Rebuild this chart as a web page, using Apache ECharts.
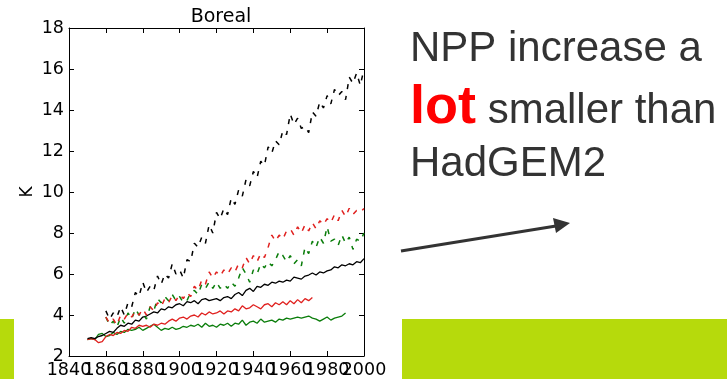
<!DOCTYPE html>
<html>
<head>
<meta charset="utf-8">
<script src="https://cdn.jsdelivr.net/npm/echarts@6/dist/echarts.min.js"></script>
<style>
html,body{margin:0;padding:0;background:#fff;}
#c{width:727px;height:379px;}
</style>
</head>
<body>
<div id="c"></div>
<script>
// ---- data ----
const title = 'Boreal';
const yName = 'K';
const xTicks = {min: 1840, max: 2000, interval: 20};
const yTicks = {min: 2, max: 18, interval: 2};
const step = 2;
const solidStart = 1850;
const dashedStart = 1860;

const blackSolid = [
  2.85, 2.9, 2.85, 2.95, 3.0, 3.1, 3.2, 3.15, 3.35, 3.5,
  3.45, 3.6, 3.55, 3.75, 3.7, 3.9, 3.95, 4.05, 4.15, 4.1,
  4.3, 4.25, 4.4, 4.35, 4.5, 4.55, 4.45, 4.65, 4.6, 4.7,
  4.55, 4.75, 4.8, 4.7, 4.75, 4.8, 4.7, 4.85, 4.9, 4.8,
  5.0, 5.1, 4.95, 5.2, 5.3, 5.15, 5.4, 5.35, 5.5, 5.45,
  5.6, 5.55, 5.65, 5.6, 5.7, 5.65, 5.85, 5.8, 5.75, 5.9,
  5.95, 6.05, 5.95, 6.1, 6.05, 6.15, 6.2, 6.35, 6.3, 6.45,
  6.4, 6.5, 6.45, 6.6, 6.55, 6.75
];
const redSolid = [
  2.8, 2.85, 2.8, 2.65, 2.7, 2.95, 3.05, 3.0, 3.15, 3.1,
  3.25, 3.2, 3.4, 3.35, 3.5, 3.45, 3.5, 3.4, 3.55, 3.5,
  3.6, 3.55, 3.7, 3.8, 3.7, 3.85, 3.9, 3.8, 3.95, 4.0,
  3.9, 4.1, 4.0, 4.15, 4.05, 4.1, 4.2, 4.05, 4.2, 4.15,
  4.3, 4.2, 4.45, 4.3, 4.35, 4.5, 4.4, 4.3, 4.5, 4.55,
  4.4, 4.6, 4.5, 4.65, 4.5, 4.7, 4.55, 4.75, 4.6, 4.8,
  4.7, 4.85
];
const greenSolid = [
  2.8, 2.85, 2.8, 3.05, 3.1, 2.95, 3.0, 3.15, 3.05, 3.2,
  3.15, 3.3, 3.25, 3.3, 3.4, 3.25, 3.35, 3.45, 3.55, 3.4,
  3.25, 3.35, 3.3, 3.4, 3.3, 3.35, 3.45, 3.4, 3.5, 3.45,
  3.55, 3.4, 3.6, 3.45, 3.5, 3.4, 3.55, 3.5, 3.6, 3.45,
  3.6, 3.55, 3.75, 3.5, 3.65, 3.7, 3.6, 3.8, 3.65, 3.7,
  3.75, 3.65, 3.8, 3.75, 3.85, 3.8, 3.85, 3.9, 3.85, 3.9,
  3.95, 3.85, 3.8, 3.7, 3.8, 3.9, 3.75, 3.85, 3.9, 3.95,
  4.1
];
const blackDashed = [
  4.2, 3.8, 4.1, 3.9, 4.4, 4.0, 4.6, 4.4, 5.1, 4.9,
  5.6, 5.1, 5.4, 5.2, 5.9, 5.5, 6.0, 5.8, 6.5, 6.0,
  6.2, 5.8, 6.7, 6.6, 7.5, 7.3, 7.8, 7.5, 8.4, 8.0,
  9.0, 8.7, 9.2, 8.9, 9.7, 9.4, 10.1, 9.8, 10.6, 10.3,
  11.0, 10.7, 11.5, 11.3, 12.2, 11.9, 12.5, 12.3, 13.0, 12.8,
  13.8, 13.3, 13.6, 13.1, 13.2, 12.9, 13.9, 13.7, 14.4, 14.1,
  14.7, 14.3, 15.0, 14.7, 14.9, 14.5, 15.6, 15.3, 15.8, 15.2,
  16.0
];
const redDashed = [
  3.9, 3.6, 3.8, 3.5, 4.0, 3.8, 4.1, 3.9, 4.2, 4.0,
  4.3, 4.0, 4.4, 4.2, 4.6, 4.4, 4.8, 4.6, 4.95, 4.7,
  5.0, 4.8, 5.1, 4.9, 5.4, 5.2, 5.7, 5.5, 6.1, 5.8,
  6.1, 5.9, 6.2, 6.0, 6.3, 6.1, 6.5, 6.3, 6.8, 6.5,
  6.9, 6.6, 7.0, 6.8, 7.3, 7.9, 7.6, 7.9, 7.7, 8.1,
  8.2, 7.9, 8.3, 8.0, 8.4, 8.1, 8.5, 8.2, 8.6, 8.4,
  8.7, 8.5, 8.9, 8.6, 9.1, 8.8, 9.2, 8.9, 9.1, 9.0,
  9.2
];
const greenDashed = [
  3.9, 3.5, 3.7, 3.4, 3.9, 3.6, 4.1, 3.8, 4.3, 4.0,
  4.1, 3.8, 4.4, 4.2, 4.8, 4.6, 4.9, 4.7, 5.0, 4.7,
  4.9, 4.6, 4.7, 5.1, 5.2, 5.0, 5.5, 5.3, 5.6, 5.3,
  5.6, 5.3, 5.5, 5.3, 5.6, 5.4, 5.8, 6.3, 6.0, 5.6,
  6.2, 6.0, 6.5, 6.3, 6.6, 6.4, 6.7, 7.1, 6.9, 6.6,
  6.9, 6.5, 6.7, 6.4, 7.3, 7.0, 7.6, 7.3, 7.8, 7.5,
  8.3, 7.6, 7.7, 7.4, 7.9, 7.5, 7.8, 7.2, 7.7, 7.6,
  8.0
];

const noteLine1 = 'NPP increase a';
const noteBold = 'lot';
const noteRest = ' smaller than';
const noteLine3 = 'HadGEM2';

// ---- build ----
const BLACK = '#000000', RED = '#e0201e', GREEN = '#0a7d0a';
function pairs(start, vals){ return vals.map((v,i)=>[start + i*step, v]); }
function line(name, start, vals, color, dashed){
  return {
    name, type:'line', xAxisIndex:0, yAxisIndex:0,
    data: pairs(start, vals), showSymbol:false, symbol:'none',
    animation:false, silent:true,
    lineStyle:{color, width: dashed ? 1.5 : 1.3, type: dashed ? [5,7] : 'solid'}
  };
}
const FONT = 'DejaVu Sans';
const chart = echarts.init(document.getElementById('c'), null, {renderer:'canvas'});
const gridBox = {left:69, top:28, right:363, bottom:22};
const axisCommon = {
  splitLine:{show:false},
  axisLine:{show:true, onZero:false, lineStyle:{color:'#000', width:1}},
  axisTick:{show:true, inside:true, length:5, lineStyle:{color:'#000'}}
};
function xLabelAxis(parity){
  return Object.assign({}, axisCommon, {type:'value', position:'bottom', min:xTicks.min, max:xTicks.max, interval:xTicks.interval,
    axisLine:{show:parity===0, onZero:false, lineStyle:{color:'#000', width:1}},
    axisTick:{show:parity===0, inside:true, length:5, lineStyle:{color:'#000'}},
    axisLabel:{show:true, margin:5, fontFamily:FONT, fontSize:17.5, color:'#000', hideOverlap:false,
      showMinLabel:true, showMaxLabel:true,
      formatter:(v)=>(Math.round((v - xTicks.min)/xTicks.interval) % 2 === parity ? String(v) : '')}});
}
chart.setOption({
  backgroundColor:'#ffffff',
  animation:false,
  title:{text:title, left:216, top:3, textAlign:'center',
    textStyle:{fontFamily:FONT, fontSize:19, fontWeight:'normal', color:'#000'}},
  grid:{left:gridBox.left, top:gridBox.top, right:gridBox.right, bottom:gridBox.bottom, containLabel:false},
  xAxis:[
    xLabelAxis(0),
    Object.assign({}, axisCommon, {type:'value', position:'top', min:xTicks.min, max:xTicks.max, interval:xTicks.interval,
      axisLabel:{show:false}}),
    xLabelAxis(1)
  ],
  yAxis:[
    Object.assign({}, axisCommon, {type:'value', position:'left', min:yTicks.min, max:yTicks.max, interval:yTicks.interval,
      name:yName, nameLocation:'middle', nameGap:33, nameRotate:90,
      nameTextStyle:{fontFamily:FONT, fontSize:17, color:'#000'},
      axisLabel:{show:true, margin:5, fontFamily:FONT, fontSize:17.5, color:'#000', showMinLabel:true, showMaxLabel:true}}),
    Object.assign({}, axisCommon, {type:'value', position:'right', min:yTicks.min, max:yTicks.max, interval:yTicks.interval,
      axisLabel:{show:false}})
  ],
  series:[
    line('green solid', solidStart, greenSolid, GREEN, false),
    line('red solid', solidStart, redSolid, RED, false),
    line('black solid', solidStart, blackSolid, BLACK, false),
    line('green dashed', dashedStart, greenDashed, GREEN, true),
    line('red dashed', dashedStart, redDashed, RED, true),
    line('black dashed', dashedStart, blackDashed, BLACK, true)
  ],
  graphic:[
    {type:'rect', shape:{x:0, y:319, width:14, height:60}, style:{fill:'#b6da0c'}, silent:true},
    {type:'rect', shape:{x:402, y:319, width:325, height:60}, style:{fill:'#b6da0c'}, silent:true},
    {type:'text', x:410, y:70, style:{text:noteLine1, font:'42px "Liberation Sans", Arial, sans-serif', fill:'#333333', verticalAlign:'bottom'}},
    {type:'text', x:410, y:135, style:{text:noteBold, font:'bold 54px "Liberation Sans", Arial, sans-serif', fill:'#ff0000', verticalAlign:'bottom'}},
    {type:'text', x:476, y:132, style:{text:noteRest, font:'42px "Liberation Sans", Arial, sans-serif', fill:'#333333', verticalAlign:'bottom'}},
    {type:'text', x:410, y:185, style:{text:noteLine3, font:'42px "Liberation Sans", Arial, sans-serif', fill:'#333333', verticalAlign:'bottom'}},
    {type:'polyline', shape:{points:[[401,251],[556,226]]}, style:{stroke:'#333333', lineWidth:3}},
    {type:'polygon', shape:{points:[[570,223],[553,218],[556,233]]}, style:{fill:'#333333'}}
  ]
});
</script>
</body>
</html>
